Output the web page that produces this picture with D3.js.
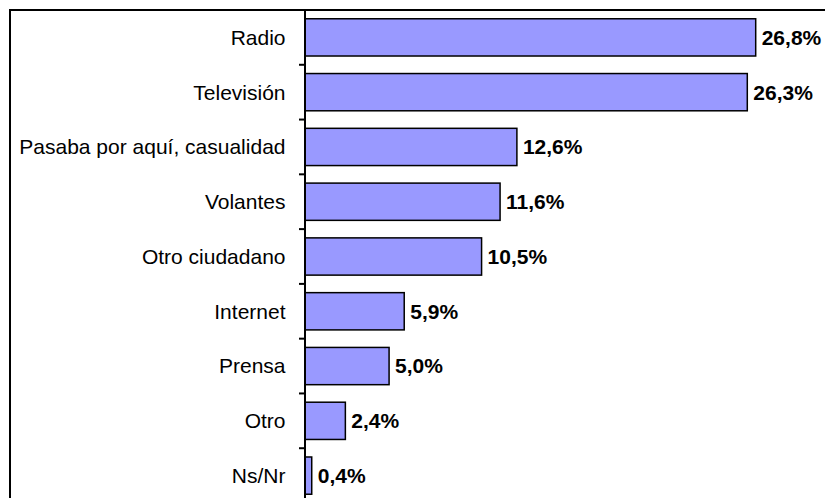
<!DOCTYPE html>
<html><head><meta charset="utf-8">
<script src="https://cdn.jsdelivr.net/npm/d3@7"></script>
<style>html,body{margin:0;padding:0;background:#fff;overflow:hidden}</style>
</head><body>
<svg id="chart" width="825" height="498"></svg>
<script>
const categories = ["Radio","Televisión","Pasaba por aquí, casualidad","Volantes","Otro ciudadano","Internet","Prensa","Otro","Ns/Nr"];
const values = [26.8,26.3,12.6,11.6,10.5,5.9,5.0,2.4,0.4];
const valueLabels = ["26,8%","26,3%","12,6%","11,6%","10,5%","5,9%","5,0%","2,4%","0,4%"];

(function(){
const svg = d3.select("#chart");
const axisX = 305, plotTop = 10, plotBottom = 503;
const x = d3.scaleLinear().domain([0, 26.8]).range([axisX, 755.7]);
const y = d3.scaleBand().domain(categories).range([plotTop, plotBottom]).paddingInner(0.32).paddingOuter(0.16);
const step = y.step();

// border (left and top)
svg.append("line").attr("x1",10).attr("x2",10).attr("y1",9).attr("y2",498).attr("stroke","#000").attr("stroke-width",2);
svg.append("line").attr("x1",9).attr("x2",825).attr("y1",10).attr("y2",10).attr("stroke","#000").attr("stroke-width",2);

// bars
svg.selectAll("rect.bar").data(values).enter().append("rect")
  .attr("class","bar")
  .attr("x", x(0))
  .attr("y", (d,i)=>y(categories[i]))
  .attr("width", d=>x(d)-x(0))
  .attr("height", y.bandwidth())
  .attr("fill","#9999FF").attr("stroke","#000").attr("stroke-width",1.5);

// axis line
svg.append("line").attr("x1",axisX).attr("x2",axisX).attr("y1",plotTop).attr("y2",498).attr("stroke","#000").attr("stroke-width",2);

// ticks at band boundaries
svg.selectAll("line.tick").data(categories).enter().append("line")
  .attr("class","tick")
  .attr("x1",axisX-6).attr("x2",axisX)
  .attr("y1",d=>y(d)-step*y.paddingInner()/2)
  .attr("y2",d=>y(d)-step*y.paddingInner()/2)
  .attr("stroke","#000").attr("stroke-width",2);

// category labels
svg.selectAll("text.cat").data(categories).enter().append("text")
  .attr("class","cat")
  .attr("x",285.5)
  .attr("y",d=>y(d)+y.bandwidth()/2)
  .attr("dy","0.35em")
  .attr("text-anchor","end")
  .attr("font-family","Liberation Sans, Arial, sans-serif")
  .attr("font-size",21)
  .attr("fill","#000")
  .text(d=>d);

// value labels
svg.selectAll("text.val").data(values).enter().append("text")
  .attr("class","val")
  .attr("x",d=>x(d)+6)
  .attr("y",(d,i)=>y(categories[i])+y.bandwidth()/2)
  .attr("dy","0.35em")
  .attr("font-family","Liberation Sans, Arial, sans-serif")
  .attr("font-size",21)
  .attr("font-weight","bold")
  .attr("fill","#000")
  .text((d,i)=>valueLabels[i]);
})();
</script>
</body></html>
